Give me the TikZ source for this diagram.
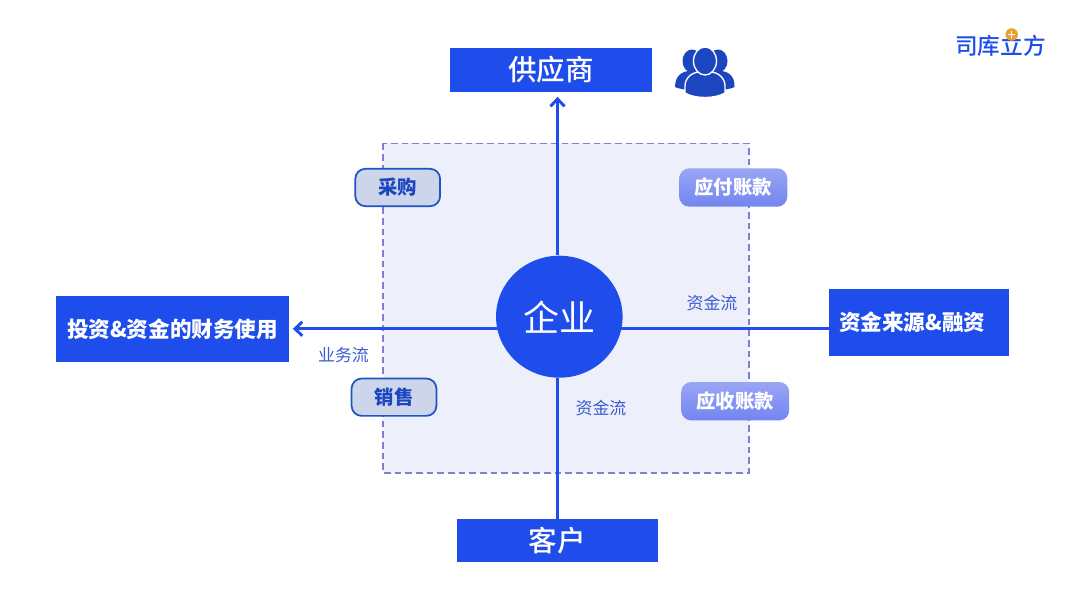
\documentclass[tikz,border=0pt]{standalone}
\usepackage{fontspec}
\setmainfont{Noto Sans CJK SC}
\newfontfamily\medfont{Noto Sans CJK SC Medium}
\usepackage{xcolor}
\usetikzlibrary{arrows.meta}
\usetikzlibrary{shapes.geometric}
\definecolor{boxblue}{HTML}{1E4DEB}
\definecolor{iconblue}{HTML}{1C46BF}
\definecolor{regionfill}{HTML}{EDEFFB}
\definecolor{regionline}{HTML}{7F80D0}
\definecolor{labelblue}{HTML}{3B5BD0}
\definecolor{pillfill}{HTML}{CCD5EA}
\definecolor{pillline}{HTML}{1F55C0}
\definecolor{pillhi}{HTML}{9AA5F5}
\definecolor{pilllo}{HTML}{7285F0}
\definecolor{logodot}{HTML}{E9A22D}
\newcommand{\pxfont}[1]{\fontsize{#1}{#1}\selectfont}
\tikzset{
	mainbox/.style={fill=boxblue, text=white, inner sep=0pt},
	darkpill/.style={draw=pillline, line width=1.3pt, fill=pillfill, text=iconblue, rounded corners=7.5pt, inner sep=0pt, minimum width=63.6pt, minimum height=28pt, font=\pxfont{14.5}\bfseries},
	lightpill/.style={top color=pillhi, bottom color=pilllo, text=white, rounded corners=7.5pt, inner sep=0pt, minimum width=81pt, minimum height=28.8pt, font=\pxfont{14.5}\bfseries},
	flowlabel/.style={text=labelblue, inner sep=0pt, font=\pxfont{12.7}},
	flowline/.style={draw=boxblue, line width=2.4pt},
	flowtip/.style={-{Straight Barb[length=5.5pt,width=10.5pt,line width=2.2pt]}},
}
\begin{document}
\begin{tikzpicture}[x=0.75pt, y=-0.75pt]
	\useasboundingbox (0, 0) rectangle (1074, 597);
	% shaded region
	\draw[regionline, fill=regionfill, line width=1.2pt, dash pattern=on 5pt off 3pt] (382.7, 143.3) rectangle (748.7, 472.7);
	% boxes
	\node[mainbox, minimum width=151.5pt, minimum height=32.5pt, font=\pxfont{21.4}\medfont] (supplier) at (551, 70) {\raisebox{1.4pt}{供应商}};
	\node[mainbox, minimum width=151.2pt, minimum height=32pt, font=\pxfont{21.4}\medfont] (customer) at (557.5, 540.6) {\raisebox{2pt}{客户}};
	\node[mainbox, minimum width=175pt, minimum height=49.5pt, font=\pxfont{16.2}\bfseries] (invest) at (172.6, 328.8) {\raisebox{0.7pt}{投资\&资金的财务使用}};
	\node[mainbox, minimum width=135.2pt, minimum height=49.8pt, inner xsep=7.5pt, text width=120.2pt, align=left, font=\pxfont{16.2}\bfseries] (funding) at (919.2, 322.5) {资金来源\&融资};
	\node[ellipse, fill=boxblue, text=white, inner sep=0pt, minimum width=94.9pt, minimum height=91.5pt, font=\pxfont{27}] (firm) at (559.3, 316.7) {\raisebox{1.3pt}{企业}};
	% flows
	\draw[flowline, flowtip, shorten >=3.7pt] (customer.north |- firm.north) -- (supplier.south -| customer.north);
	\draw[flowline, flowtip, shorten <=-2pt, shorten >=2.5pt] (firm.west |- invest.east) -- (invest.east);
	\draw[flowline, shorten >=-2pt] (funding.west |- invest.east) -- (firm.east |- invest.east);
	\draw[flowline] (customer.north) -- (customer.north |- firm.south);
	% pills
	\node[darkpill] (purchase) at (397.7, 187.5) {采购};
	\node[darkpill] (sales) at (394, 397.2) {销售};
	\node[lightpill] (payable) at (733.3, 187.5) {应付账款};
	\node[lightpill] (receivable) at (735.2, 401.2) {应收账款};
	% flow labels
	\node[flowlabel] (bizflow) at (343.5, 355) {业务流};
	\node[flowlabel] (cashright) at (712, 303) {资金流};
	\node[flowlabel] (cashbottom) at (601, 408) {资金流};
	% people icon
	\fill[iconblue] (692, 61) ellipse (9.5 and 11.5);
	\fill[iconblue] (718, 61) ellipse (9.5 and 11.5);
	\fill[iconblue] (675, 87) .. controls (675, 76) and (682, 71) .. (690, 71) -- (720, 71) .. controls (728, 71) and (735, 76) .. (734.5, 87) .. controls (725, 92) and (685, 92) .. (675, 87);
	\filldraw[iconblue, draw=white, line width=1pt] (685, 93) -- (685, 86) .. controls (685, 78) and (692, 72) .. (700, 72) -- (710, 72) .. controls (718, 72) and (725, 78) .. (725, 86) -- (725, 93) .. controls (715, 99) and (695, 99) .. (685, 93);
	\filldraw[iconblue, draw=white, line width=1pt] (705, 61) ellipse (11.5 and 14);
	% logo
	\node[text=boxblue, inner sep=0pt, font=\pxfont{17}\medfont] (logo) at (1000.5, 46) {司库立方};
	\fill[logodot] (1011.7, 34.5) circle (4.7pt);
	\draw[white, line width=0.9pt] (1008.2, 34.5) -- (1015.2, 34.5) (1011.7, 31) -- (1011.7, 38);
\end{tikzpicture}
\end{document}
